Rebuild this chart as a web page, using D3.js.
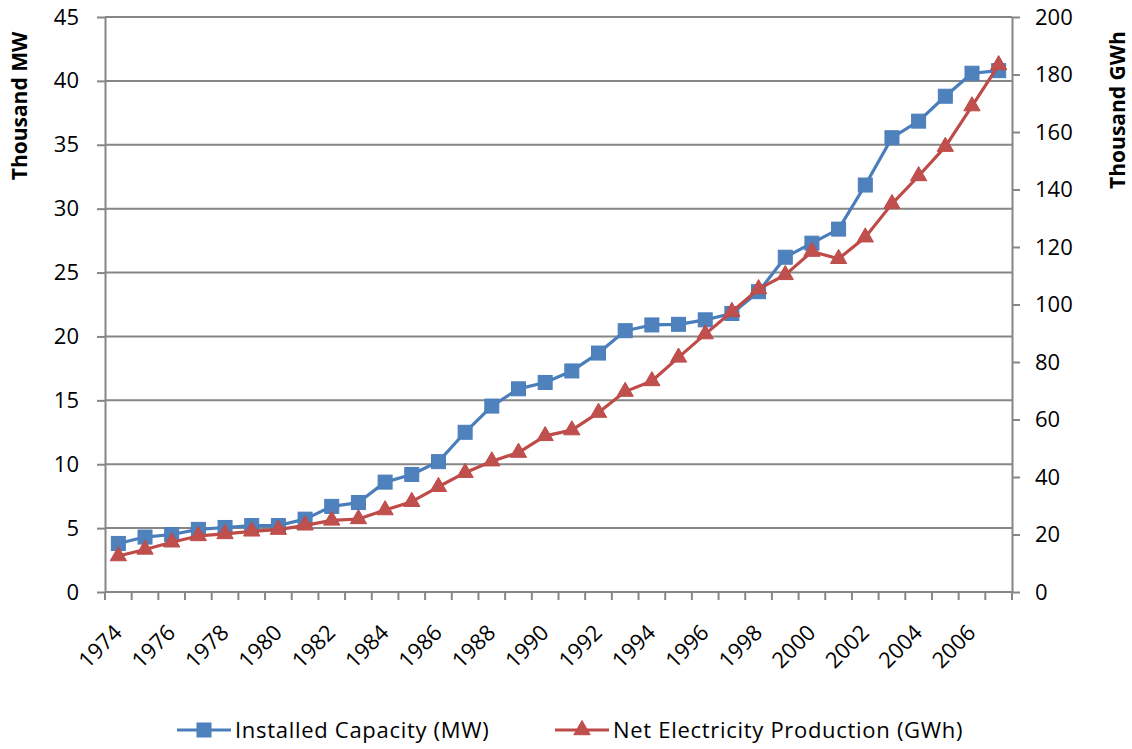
<!DOCTYPE html>
<html>
<head>
<meta charset="utf-8">
<script src="https://cdn.jsdelivr.net/npm/d3@7"></script>
<style>
  body { margin: 0; background: #fff; }
  svg { font-family: "Open Sans", sans-serif; }
</style>
</head>
<body>
<svg id="chart"></svg>
<script>
// data
const years = d3.range(1974, 2008);
const capacityMW = [3.8, 4.3, 4.5, 4.9, 5.05, 5.2, 5.2, 5.7, 6.7, 7.0, 8.6, 9.2, 10.2, 12.5, 14.55, 15.9, 16.4, 17.3, 18.7, 20.45, 20.9, 20.95, 21.3, 21.8, 23.5, 26.2, 27.3, 28.4, 31.85, 35.55, 36.85, 38.8, 40.6, 40.8];
const productionGWh = [12.5, 14.8, 17.3, 19.5, 20.2, 21.1, 21.7, 23.2, 24.9, 25.4, 28.5, 31.4, 36.6, 41.5, 45.5, 48.5, 54.3, 56.3, 62.4, 69.7, 73.4, 81.6, 89.7, 97.5, 105.4, 110.3, 118.4, 115.9, 123.4, 135, 144.7, 154.9, 169, 183.3];
const leftTicks = d3.range(0, 46, 5);
const rightTicks = d3.range(0, 201, 20);
const seriesNames = ['Installed Capacity (MW)', 'Net Electricity Production (GWh)'];

const W = 1132, H = 749;
const plotL = 105, plotR = 1012, plotT = 17, plotB = 592;
const gridColor = '#868686';
const blueLine = '#4A7EBB', blueFill = '#4F81BD';
const redLine = '#BE4B48', redFill = '#C0504D';
const fontSize = 22;

const svg = d3.select('#chart').attr('width', W).attr('height', H);

var xs = d3.scaleBand().domain(years).range([plotL, plotR]);
var yl = d3.scaleLinear().domain([0, 45]).range([plotB, plotT]);
var yr = d3.scaleLinear().domain([0, 200]).range([plotB, plotT]);

// horizontal gridlines
svg.append('g').selectAll('line').data(leftTicks.slice(1)).enter().append('line')
   .attr('x1', plotL).attr('x2', plotR)
   .attr('y1', d => yl(d)).attr('y2', d => yl(d))
   .attr('stroke', gridColor).attr('stroke-width', 2);

// left axis
const gl = svg.append('g').attr('transform', `translate(${plotL},0)`)
   .call(d3.axisLeft(yl).tickValues(leftTicks).tickSize(8).tickSizeOuter(0).tickPadding(18));
// right axis
const gr = svg.append('g').attr('transform', `translate(${plotR},0)`)
   .call(d3.axisRight(yr).tickValues(rightTicks).tickSize(8).tickSizeOuter(0).tickPadding(15));
// bottom axis: ticks on category boundaries
const xb = svg.append('g').attr('transform', `translate(0,${plotB})`);
xb.append('line').attr('x1', plotL).attr('x2', plotR).attr('stroke', gridColor).attr('stroke-width', 2);
xb.selectAll('.xt').data(years.concat([2008])).enter().append('line')
   .attr('class', 'xt')
   .attr('x1', d => d === 2008 ? plotR : xs(d)).attr('x2', d => d === 2008 ? plotR : xs(d))
   .attr('y1', 0).attr('y2', 8)
   .attr('stroke', gridColor).attr('stroke-width', 2);
xb.selectAll('.xl').data(years.filter(d => d % 2 === 0)).enter().append('text')
   .attr('class', 'xl')
   .attr('transform', d => `translate(${xs(d) + xs.bandwidth() / 2 + 5},42) rotate(-45)`)
   .attr('text-anchor', 'end')
   .attr('font-size', fontSize)
   .attr('fill', '#000')
   .text(d => d);

[gl, gr].forEach(g => {
    g.select('.domain').attr('stroke', gridColor).attr('stroke-width', 2);
    g.selectAll('.tick line').attr('stroke', gridColor).attr('stroke-width', 2);
    g.selectAll('.tick text').attr('font-size', fontSize).attr('fill', '#000')
     .attr('font-family', '"Open Sans", sans-serif');
});

// axis titles
svg.append('text')
   .attr('transform', 'translate(27,106) rotate(-90)')
   .attr('text-anchor', 'middle')
   .attr('font-size', 21).attr('font-weight', 'bold')
   .text('Thousand MW');
svg.append('text')
   .attr('transform', 'translate(1125,110) rotate(-90)')
   .attr('text-anchor', 'middle')
   .attr('font-size', 21).attr('font-weight', 'bold')
   .text('Thousand GWh');

const cx = d => xs(d) + xs.bandwidth() / 2;
const triangle = d3.symbol().type(d3.symbolTriangle).size(115);

// installed capacity
svg.append('path')
   .datum(years.map((y, i) => [cx(y), yl(capacityMW[i])]))
   .attr('d', d3.line())
   .attr('fill', 'none').attr('stroke', blueLine).attr('stroke-width', 3.2)
   .attr('stroke-linejoin', 'round');
svg.append('g').selectAll('rect').data(years).enter().append('rect')
   .attr('x', d => cx(d) - 7).attr('y', (d, i) => yl(capacityMW[i]) - 7)
   .attr('width', 14).attr('height', 14)
   .attr('fill', blueFill).attr('stroke', blueLine).attr('stroke-width', 1);

// net production
svg.append('path')
   .datum(years.map((y, i) => [cx(y), yr(productionGWh[i])]))
   .attr('d', d3.line())
   .attr('fill', 'none').attr('stroke', redLine).attr('stroke-width', 3.2)
   .attr('stroke-linejoin', 'round');
svg.append('g').selectAll('path').data(years).enter().append('path')
   .attr('d', triangle)
   .attr('transform', (d, i) => `translate(${cx(d)},${yr(productionGWh[i])})`)
   .attr('fill', redFill).attr('stroke', redLine).attr('stroke-width', 1);

// legend
const legendX = [177, 555];
const legend = svg.selectAll('.legend').data(seriesNames).enter().append('g')
   .attr('class', 'legend')
   .attr('transform', (d, i) => `translate(${legendX[i]},730)`);
legend.append('line')
   .attr('x1', 0).attr('x2', 54)
   .attr('stroke', (d, i) => i ? redLine : blueLine).attr('stroke-width', 3.2);
legend.filter((d, i) => i === 0).append('rect')
   .attr('x', 20).attr('y', -7).attr('width', 14).attr('height', 14)
   .attr('fill', blueFill).attr('stroke', blueLine);
legend.filter((d, i) => i === 1).append('path')
   .attr('d', triangle).attr('transform', 'translate(27,0)')
   .attr('fill', redFill).attr('stroke', redLine);
legend.append('text')
   .attr('x', 58).attr('dy', '0.36em')
   .attr('font-size', fontSize)
   .attr('letter-spacing', '0.7px')
   .text(d => d);
</script>
</body>
</html>
